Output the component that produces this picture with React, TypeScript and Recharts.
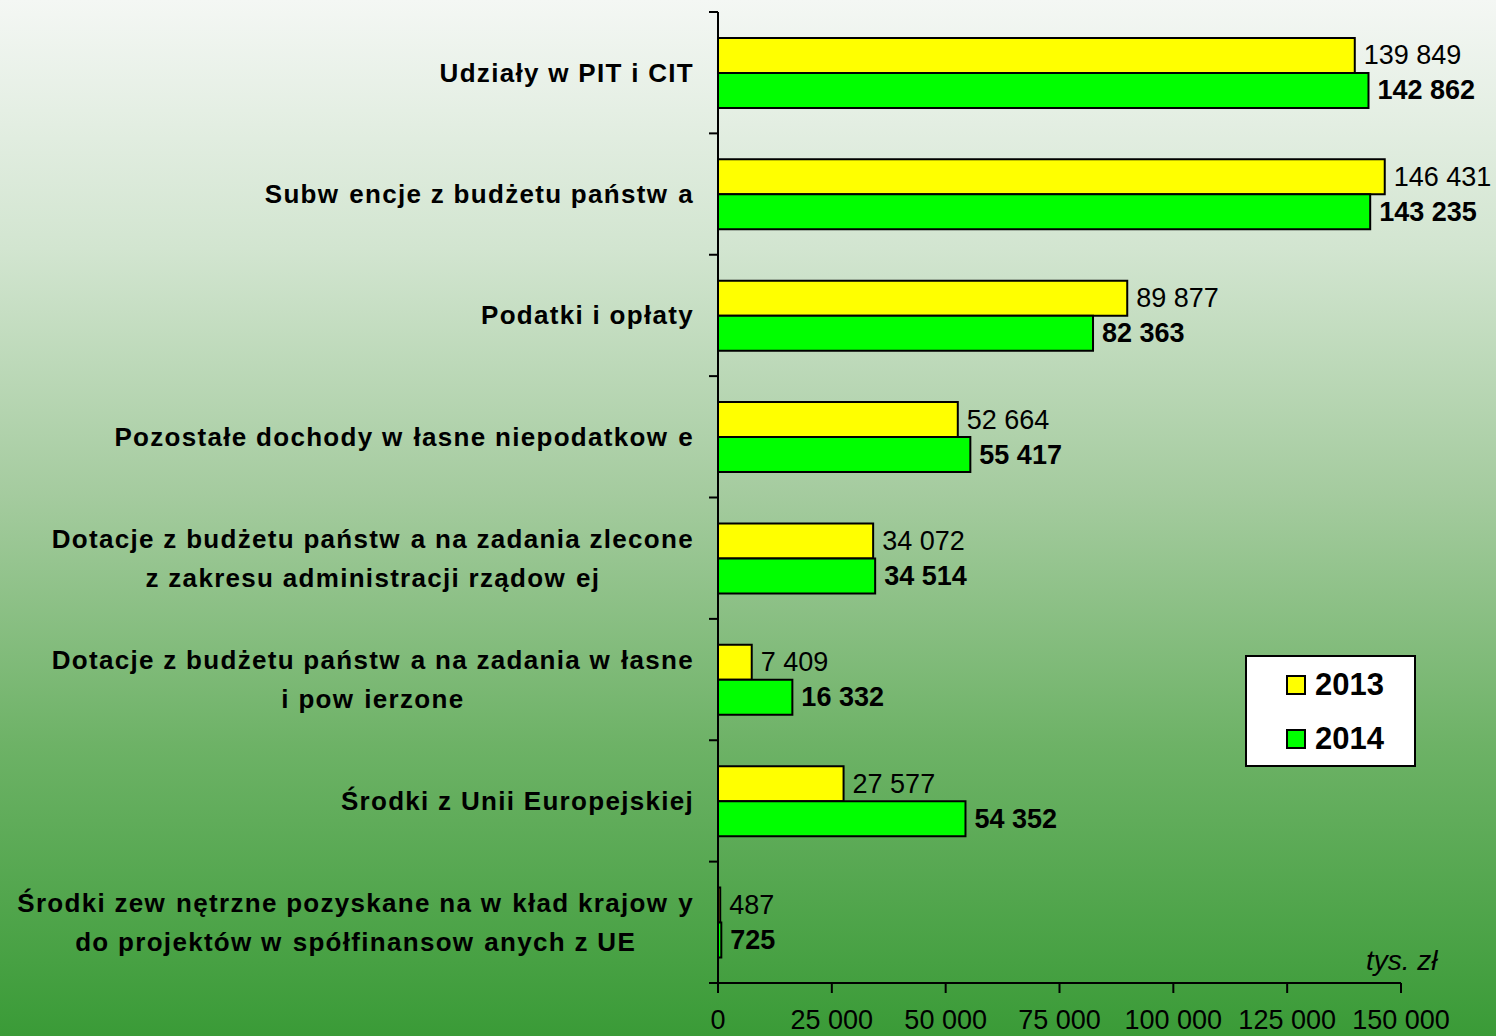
import React from 'react';
import { BarChart, Bar, XAxis, YAxis, Legend, LabelList } from 'recharts';

const categories = [
  'Udziały w PIT i CIT',
  'Subwencje z budżetu państwa',
  'Podatki i opłaty',
  'Pozostałe dochody własne niepodatkowe',
  'Dotacje z budżetu państwa na zadania zlecone\nz zakresu administracji rządowej',
  'Dotacje z budżetu państwa na zadania własne\ni powierzone',
  'Środki z Unii Europejskiej',
  'Środki zewnętrzne pozyskane na wkład krajowy\ndo projektów współfinansowanych z UE',
];
const values2013 = [139849, 146431, 89877, 52664, 34072, 7409, 27577, 487];
const values2014 = [142862, 143235, 82363, 55417, 34514, 16332, 54352, 725];
const xTicks = [0, 25000, 50000, 75000, 100000, 125000, 150000];
const seriesNames = ['2013', '2014'];
const unitLabel = 'tys. zł';

const data = categories.map((c, i) => ({ name: c, v2013: values2013[i], v2014: values2014[i] }));

const W = 1496;
const H = 1036;
const MARGIN = { top: 12, right: 95, bottom: 0, left: 0 };
const Y_AXIS_W = 718;
const X_AXIS_H = 53;
const PLOT_H = H - MARGIN.top - MARGIN.bottom - X_AXIS_H;
const BAND = PLOT_H / categories.length;
const LABEL_RIGHT = 694;
const FONT = "'Liberation Sans', Arial, sans-serif";
const CAT_FS = 26;
const CAT_LS = 1.3;
const W_GAP = 10;

const fmt = (v: number) => String(v).replace(/\B(?=(\d{3})+(?!\d))/g, ' ');

// split a line after each "w" that is directly followed by a letter (mimics the original's spacing)
const splitW = (s: string) => {
  const segs: string[] = [];
  let cur = '';
  for (let i = 0; i < s.length; i++) {
    cur += s[i];
    if (s[i] === 'w' && i + 1 < s.length && s[i + 1] !== ' ') {
      segs.push(cur);
      cur = '';
    }
  }
  if (cur) segs.push(cur);
  return segs;
};

let ctx: CanvasRenderingContext2D | null = null;
const measure = (s: string) => {
  if (!ctx) {
    const c = document.createElement('canvas');
    ctx = c.getContext('2d');
  }
  const segs = splitW(s);
  const extra = CAT_LS * s.length + W_GAP * (segs.length - 1);
  if (!ctx) return s.length * CAT_FS * 0.55 + extra;
  ctx.font = `bold ${CAT_FS}px ${FONT}`;
  return ctx.measureText(s).width + extra;
};

const CatTick = (props: any) => {
  const { y, payload } = props;
  const idx = payload.index ?? props.index;
  const lines = String(payload.value).split('\n');
  const maxW = Math.max(...lines.map(measure));
  const cx = LABEL_RIGHT - maxW / 2;
  const lh = 39;
  const startY = y - ((lines.length - 1) * lh) / 2 + 9;
  return (
    <g>
      <line x1={Y_AXIS_W - 9} x2={Y_AXIS_W} y1={y - BAND / 2} y2={y - BAND / 2} stroke="#000" strokeWidth={2} />
      {idx === categories.length - 1 && (
        <line x1={Y_AXIS_W - 9} x2={Y_AXIS_W} y1={y + BAND / 2} y2={y + BAND / 2} stroke="#000" strokeWidth={2} />
      )}
      {lines.map((l, i) => (
        <text
          key={i}
          x={cx}
          y={startY + i * lh}
          textAnchor="middle"
          fontFamily={FONT}
          fontWeight="bold"
          fontSize={CAT_FS}
          letterSpacing={CAT_LS}
          fill="#000"
        >
          {splitW(l).map((seg, j) => (
            <tspan key={j} dx={j === 0 ? 0 : W_GAP}>
              {seg}
            </tspan>
          ))}
        </text>
      ))}
    </g>
  );
};

const makeLabel = (bold: boolean) => (props: any) => {
  const { x, y, width, height, value } = props;
  return (
    <text
      x={x + width + 9}
      y={y + height / 2 + 9}
      fontFamily={FONT}
      fontSize={27}
      fontWeight={bold ? 'bold' : 'normal'}
      fill="#000"
    >
      {fmt(value)}
    </text>
  );
};

const LegendBox = (props: any) => {
  const payload = props.payload || [];
  return (
    <div
      style={{
        width: 171,
        height: 112,
        background: '#fff',
        border: '2px solid #000',
        boxSizing: 'border-box',
        position: 'relative',
        fontFamily: FONT,
      }}
    >
      {payload.map((p: any, i: number) => (
        <div
          key={i}
          style={{
            position: 'absolute',
            left: 39,
            top: 10 + i * 54,
            height: 36,
            display: 'flex',
            alignItems: 'center',
          }}
        >
          <div
            style={{
              width: 20,
              height: 20,
              boxSizing: 'border-box',
              border: '2px solid #000',
              background: p.color,
              marginRight: 9,
            }}
          />
          <span style={{ fontSize: 31, fontWeight: 'bold', color: '#000', lineHeight: '36px' }}>{p.value}</span>
        </div>
      ))}
    </div>
  );
};

export default function App() {
  return (
    <div
      style={{
        position: 'absolute',
        left: 0,
        top: 0,
        width: W,
        height: H,
        background:
          'linear-gradient(to bottom, #f4f7f4 0%, #d2e5d0 24%, #a4cb9e 48%, #6db266 72%, #3a9b37 100%)',
        overflow: 'hidden',
      }}
    >
      <BarChart
        width={W}
        height={H}
        data={data}
        layout="vertical"
        margin={MARGIN}
        barGap={0}
        barCategoryGap="21.4%"
      >
        <XAxis
          type="number"
          domain={[0, 150000]}
          ticks={xTicks}
          tickFormatter={fmt}
          height={X_AXIS_H}
          axisLine={{ stroke: '#000', strokeWidth: 2 }}
          tickLine={{ stroke: '#000', strokeWidth: 2 }}
          tickSize={10}
          tickMargin={17}
          tick={{ fill: '#000', fontSize: 27, fontFamily: FONT }}
          interval={0}
        />
        <YAxis
          type="category"
          dataKey="name"
          width={Y_AXIS_W}
          axisLine={{ stroke: '#000', strokeWidth: 2 }}
          tickLine={false}
          tick={<CatTick />}
          interval={0}
        />
        <Legend
          layout="vertical"
          align="center"
          verticalAlign="middle"
          content={<LegendBox />}
          wrapperStyle={{ left: 1245, top: 655, width: 171, height: 112 }}
        />
        <Bar dataKey="v2013" name={seriesNames[0]} fill="#ffff00" stroke="#000" strokeWidth={2} isAnimationActive={false}>
          <LabelList dataKey="v2013" content={makeLabel(false)} />
        </Bar>
        <Bar dataKey="v2014" name={seriesNames[1]} fill="#00ff00" stroke="#000" strokeWidth={2} isAnimationActive={false}>
          <LabelList dataKey="v2014" content={makeLabel(true)} />
        </Bar>
      </BarChart>
      <div
        style={{
          position: 'absolute',
          left: 1366,
          top: 945,
          fontFamily: FONT,
          fontStyle: 'italic',
          fontSize: 28,
          color: '#000',
          lineHeight: '32px',
        }}
      >
        {unitLabel}
      </div>
    </div>
  );
}
